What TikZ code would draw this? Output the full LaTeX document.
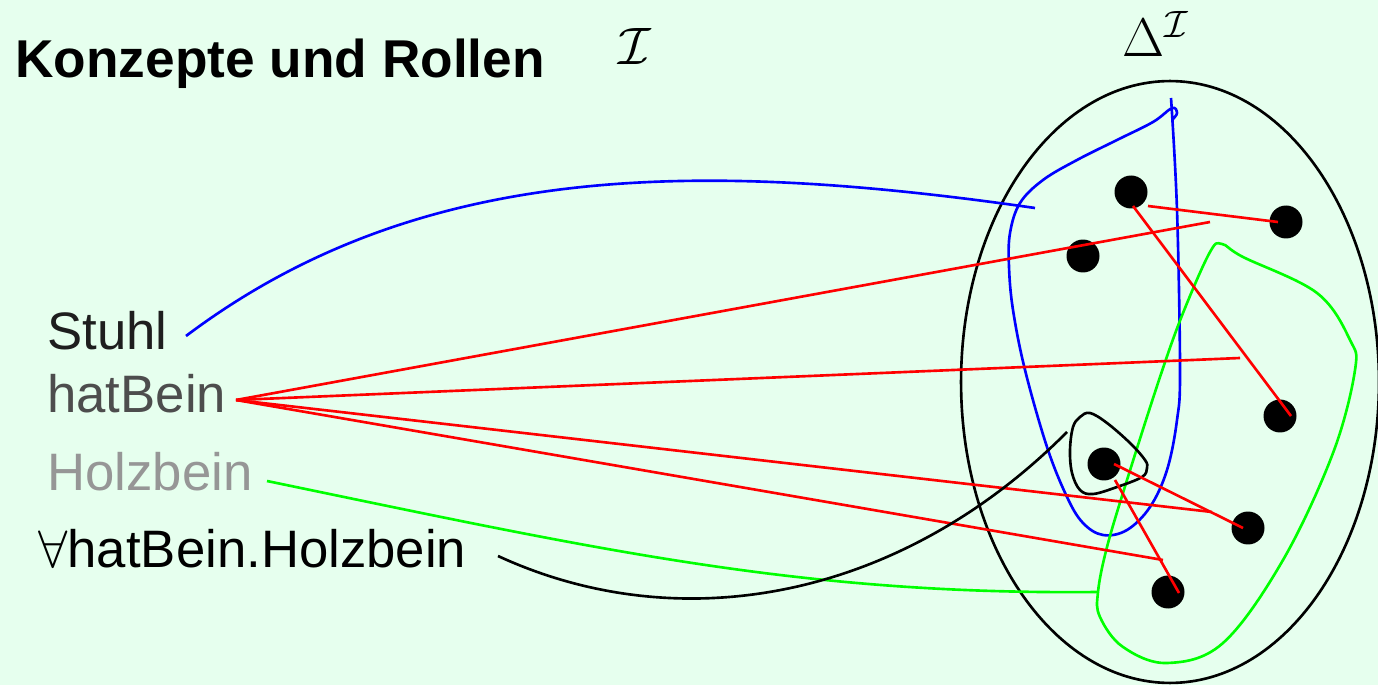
\RequirePackage{fix-cm}
\documentclass[tikz,border=0pt]{standalone}
\usepackage{fontspec}
\setmainfont{Liberation Sans}
\usepackage{tikz}
\usetikzlibrary{calc}
\usetikzlibrary{positioning}
\definecolor{bgmint}{RGB}{230,255,238}
\definecolor{stuhlgray}{RGB}{30,30,30}
\definecolor{rollegray}{RGB}{77,77,77}
\definecolor{holzgray}{RGB}{150,150,150}
\newcommand{\lblsize}{\fontsize{30}{36}\selectfont}
\tikzstyle{dot} = [circle, fill=black, inner sep=0pt, minimum size=0.66cm]
\tikzstyle{term} = [anchor=base west, inner sep=0pt, font=\lblsize]
\tikzstyle{konzept} = [draw=blue, line width=1.5pt]
\tikzstyle{rolle} = [draw=red, line width=1.5pt]
\tikzstyle{holz} = [draw=green, line width=1.5pt]
\tikzstyle{allq} = [draw=black, line width=1.5pt]

\begin{document}
\begin{tikzpicture}[x=0.02cm, y=-0.02cm, line join=round]
    \fill [bgmint] (0,0) rectangle (1378,685);
    \useasboundingbox (0,0) rectangle (1378,685);

    % Titel und Interpretation
    \node [term, font=\fontsize{30.3}{36}\selectfont\bfseries] (title) at (15,78) {Konzepte und Rollen};
    \node [font=\lblsize] (interp) at (635,46) {$\mathcal{I}$};
    \node [anchor=base, inner sep=0pt, font=\fontsize{31}{37}\selectfont] (deltalbl) at (1156,57) {$\Delta^{\mathcal{I}}$};

    % Begriffe links
    \node [term, text=stuhlgray] (stuhl) at (47,350) {Stuhl};
    \node [term, text=rollegray] (hatbein) at (47,413) {hatBein};
    \node [term, text=holzgray] (holzbein) at (47,490) {Holzbein};
    \node [term] (allhat) at (38,567) {$\forall$hatBein.Holzbein};

    \coordinate (stuhl out) at (186,336);
    \coordinate (hat out) at (236,400);
    \coordinate (holz out) at (267,481);
    \coordinate (all out) at (498,556);

    % Domaene
    \draw [line width=1.5pt] (1170,382) ellipse [x radius=4.18cm, y radius=6.02cm];

    % Extensionen
    \draw [konzept] plot [smooth, tension=0.6] coordinates {(1171,98) (1177,210) (1180,370) (1177,420)
        (1167,470) (1150,507) (1127,530) (1103,535) (1083,523) (1067,497) (1047,447) (1025,370)
        (1013,310) (1009,267) (1010,233) (1020,203) (1043,180) (1077,160) (1117,140) (1153,122)
        (1172,108) (1177,113) (1173,119)};
    \draw [holz] plot [smooth cycle, tension=0.6] coordinates {(1098,592) (1100,617) (1123,647)
        (1167,663) (1223,643) (1283,560) (1333,453) (1355,370) (1350,340) (1317,293) (1243,257)
        (1222,244) (1210,252) (1183,313) (1160,377) (1127,480) (1107,547)};
    \draw [allq] plot [smooth cycle, tension=0.6] coordinates {(1090,413) (1107,423) (1130,443)
        (1145,460) (1147,468) (1142,477) (1117,487) (1093,494) (1080,490) (1072,473) (1070,450)
        (1073,427) (1080,417)};

    % Individuen
    \node [dot] (d1) at (1131,192) {};
    \node [dot] (d2) at (1286,222) {};
    \node [dot] (d3) at (1083,256) {};
    \node [dot] (d4) at (1280,416) {};
    \node [dot] (d5) at (1104,464) {};
    \node [dot] (d6) at (1248,528) {};
    \node [dot] (d7) at (1168,592) {};

    % Rollenpaare
    \draw [rolle] ([shift={(17,14)}]d1.center) -- ([shift={(-8,0)}]d2.center);
    \draw [rolle] ([shift={(2,14)}]d1.center) -- ([shift={(11,0)}]d4.center);
    \draw [rolle] ([shift={(10,0)}]d5.center) -- ([shift={(-5,0)}]d6.center);
    \draw [rolle] ([shift={(11,16)}]d5.center) -- ([shift={(11,1)}]d7.center);

    \coordinate (r1) at (1210,222);
    \coordinate (r2) at (1240,358);
    \coordinate (r3) at (1212,512);
    \coordinate (r4) at (1163,560);

    % Zuordnungen
    \draw [konzept] (stuhl out) .. controls (420,160) and (700,160) .. (1035,208);
    \foreach \e in {r1,r2,r3,r4}
        \draw [rolle] (hat out) -- (\e);
    \draw [holz] (holz out) .. controls (600,550) and (800,595) .. (1098,592);
    \draw [allq] (all out) .. controls (680,640) and (900,600) .. (1067,432);
\end{tikzpicture}
\end{document}
